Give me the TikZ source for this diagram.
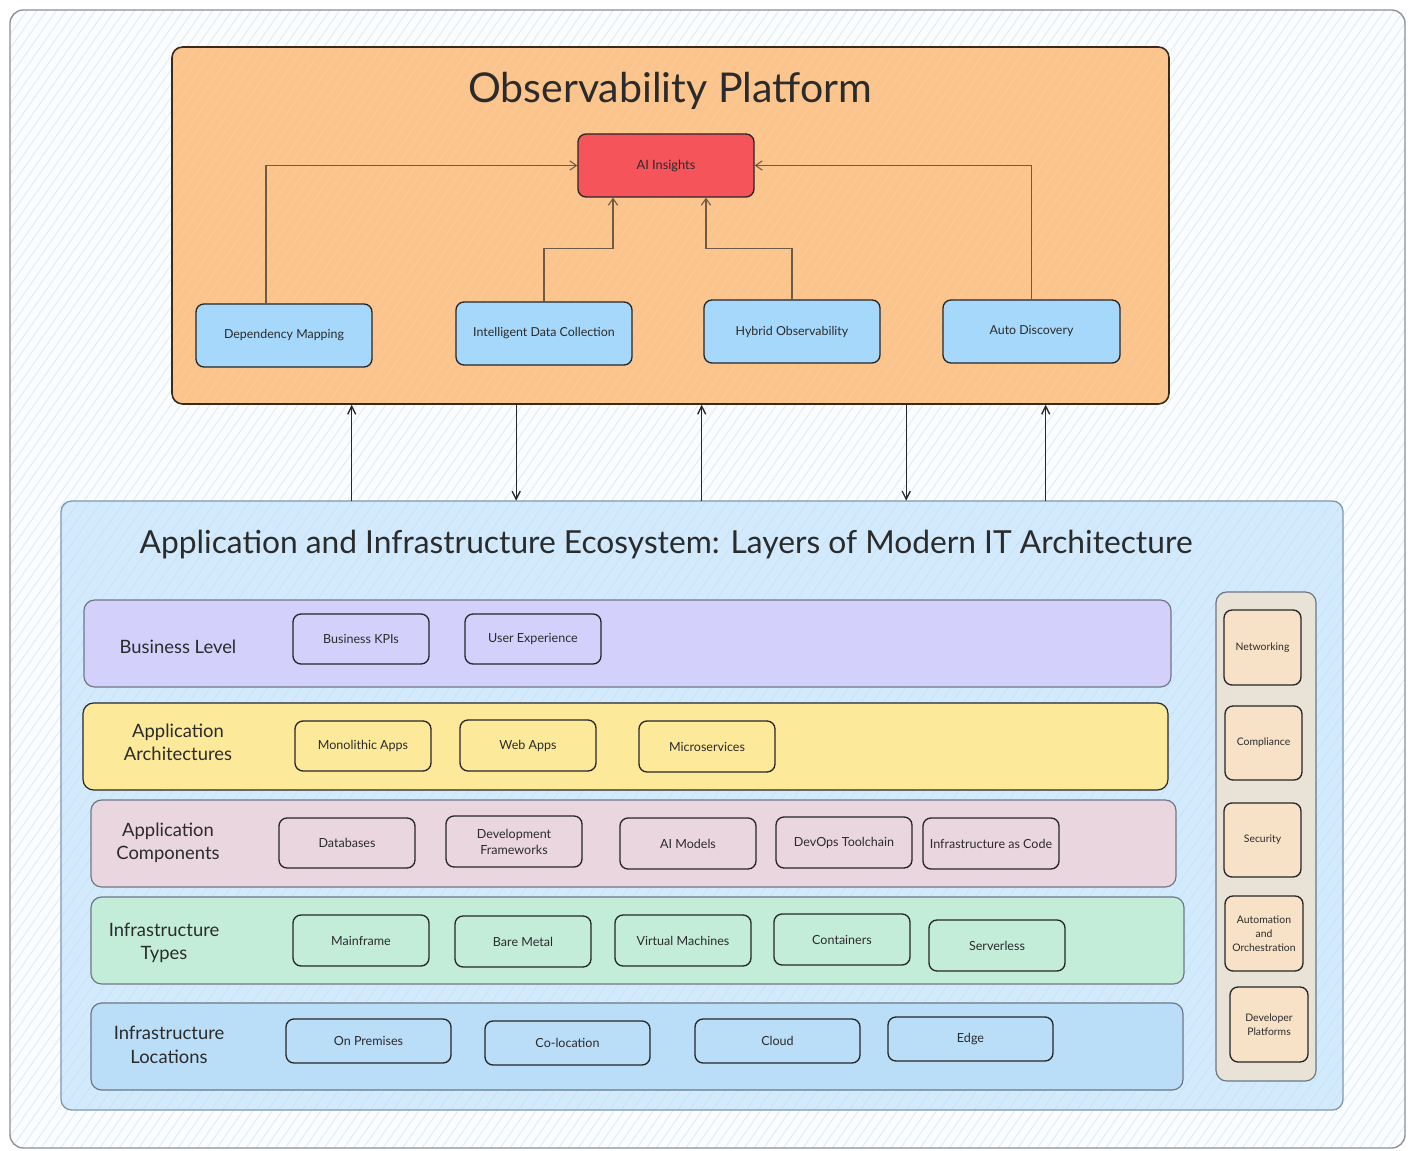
\documentclass[tikz,border=0pt]{standalone}
\usepackage{fontspec}
\setmainfont{Lato}
\usetikzlibrary{calc,arrows.meta,patterns.meta}

\definecolor{txt}{HTML}{2B2B2B}
\definecolor{bgc}{HTML}{FAFCFE}
\definecolor{hatch}{HTML}{DDEBF6}
\definecolor{framec}{HTML}{8C8F93}
\definecolor{orangef}{HTML}{FAC48C}
\definecolor{orangeh}{HTML}{FDCB98}
\definecolor{oranged}{HTML}{3A2A1A}
\definecolor{redf}{HTML}{F5545A}
\definecolor{bluen}{HTML}{A6D8FB}
\definecolor{ecof}{HTML}{D2EAFB}
\definecolor{ecohatch}{HTML}{C4E2F8}
\definecolor{ecob}{HTML}{7F99AD}
\definecolor{lavf}{HTML}{D3D0FC}
\definecolor{yelf}{HTML}{FDE99A}
\definecolor{pinkf}{HTML}{EAD6DF}
\definecolor{mintf}{HTML}{C3EDD9}
\definecolor{locf}{HTML}{BADDF8}
\definecolor{colf}{HTML}{E8E2D7}
\definecolor{peachf}{HTML}{F8E2C7}
\definecolor{layb}{HTML}{6E7884}
\definecolor{connc}{HTML}{6E5A45}

\tikzset{
  bx/.style n args={4}{at={({(#1+#3)/2},{(#2+#4)/2})},
    minimum width={(#3-#1)*0.75pt}, minimum height={(#4-#2)*0.75pt}},
  item/.style={rounded corners=6pt, draw=black!85, line width=1pt, inner sep=0pt,
    text=txt, font=\fontsize{9.4}{12}\selectfont, align=center},
  obsitem/.style={item, fill=bluen, font=\fontsize{9.3}{12}\selectfont},
  sideitem/.style={item, fill=peachf, font=\fontsize{7.8}{10.5}\selectfont},
  layer/.style={rounded corners=8pt, draw=layb, line width=0.9pt, inner sep=0pt},
  lbl/.style={font=\fontsize{13.8}{17.5}\selectfont, text=txt, align=center},
  conn/.style={draw=connc, line width=0.8pt, -{Straight Barb[length=5pt,width=7pt]}},
  link/.style={draw=black!85, line width=1pt, -{Straight Barb[length=6pt,width=6pt]}},
}

\begin{document}
\begin{tikzpicture}[x=0.75pt, y=-0.75pt]
\useasboundingbox (0,0) rectangle (1413,1151);

% outer frame
\node[bx={10}{10}{1405}{1148}, inner sep=0pt, rounded corners=10pt, draw=framec,
  line width=1pt, preaction={fill=bgc},
  pattern={Lines[angle=55,distance=6pt,line width=0.6pt]}, pattern color=hatch] (frame) {};

% observability platform
\node[bx={172}{47}{1169}{404}, inner sep=0pt, rounded corners=8pt, draw=oranged,
  line width=1.2pt, preaction={fill=orangef},
  pattern={Lines[angle=55,distance=6pt,line width=0.6pt]}, pattern color=orangeh] (obs) {};
\node[font=\fontsize{30.8}{36}\selectfont, text=txt] (t1) at (670,91) {Observability Platform};

\node[item, fill=redf, font=\fontsize{9.6}{11}\selectfont, bx={578}{134}{754}{197}] (ai) {AI Insights};
\node[obsitem, bx={196}{304}{372}{367}] (dep) {Dependency Mapping};
\node[obsitem, bx={456}{302}{632}{365}] (idc) {Intelligent Data Collection};
\node[obsitem, bx={704}{300}{880}{363}] (hyb) {Hybrid Observability};
\node[obsitem, bx={943}{300}{1120}{363}] (auto) {Auto Discovery};

\draw[conn] ($(dep.north)+(-18,0)$) |- (ai.west);
\draw[conn] (idc.north) -- ++(0,-53) -| ($(ai.south)+(-53,0)$);
\draw[conn] (hyb.north) -- ++(0,-51) -| ($(ai.south)+(40,0)$);
\draw[conn] (auto.north) |- (ai.east);

% ecosystem
\node[bx={61}{501}{1343}{1110}, inner sep=0pt, rounded corners=8pt, draw=ecob,
  line width=1pt, preaction={fill=ecof},
  pattern={Lines[angle=55,distance=7pt,line width=0.5pt]}, pattern color=ecohatch] (eco) {};
\node[font=\fontsize{23.8}{28}\selectfont, text=txt] (t2) at (666,545)
  {Application and Infrastructure Ecosystem: Layers of Modern IT Architecture};

% links between the two blocks
\draw[link] ($(eco.north west)+(291,0)$) coordinate (u1) -- (u1 |- obs.south);
\draw[link] ($(obs.south west)+(345,0)$) coordinate (d1) -- (d1 |- eco.north);
\draw[link] ($(eco.north west)+(641,0)$) coordinate (u2) -- (u2 |- obs.south);
\draw[link] ($(obs.south west)+(735,0)$) coordinate (d2) -- (d2 |- eco.north);
\draw[link] ($(eco.north west)+(985,0)$) coordinate (u3) -- (u3 |- obs.south);

% layers
\node[layer, fill=lavf, bx={84}{600}{1171}{687}] (bus) {};
\node[layer, fill=yelf, draw=black!85, bx={83}{703}{1168}{790}] (arch) {};
\node[layer, fill=pinkf, bx={91}{800}{1176}{887}] (comp) {};
\node[layer, fill=mintf, bx={91}{897}{1184}{984}] (types) {};
\node[layer, fill=locf, bx={91}{1003}{1183}{1090}] (locs) {};
\node[layer, fill=colf, bx={1216}{592}{1316}{1081}] (side) {};

\node[lbl] (busl) at (178,647) {Business Level};
\node[lbl] (archl) at (178,742) {Application\\Architectures};
\node[lbl] (compl) at (168,843) {Application\\Components};
\node[lbl] (typesl) at (164,943) {Infrastructure\\Types};
\node[lbl] (locsl) at (169,1045) {Infrastructure\\Locations};

% business
\node[item, fill=lavf, bx={293}{614}{429}{664}] (kpi) {Business KPIs};
\node[item, fill=lavf, bx={465}{614}{601}{664}] (ux) {User Experience};
% architectures
\node[item, fill=yelf, bx={295}{721}{431}{771}] (mono) {Monolithic Apps};
\node[item, fill=yelf, bx={460}{720}{596}{771}] (web) {Web Apps};
\node[item, fill=yelf, bx={639}{721}{775}{772}] (micro) {Microservices};
% components
\node[item, fill=pinkf, bx={279}{818}{415}{868}] (db) {Databases};
\node[item, fill=pinkf, bx={446}{816}{582}{867}] (dev) {Development\\Frameworks};
\node[item, fill=pinkf, bx={620}{818}{756}{869}] (aim) {AI Models};
\node[item, fill=pinkf, bx={776}{817}{912}{868}] (devops) {DevOps Toolchain};
\node[item, fill=pinkf, bx={923}{818}{1059}{869}] (iac) {Infrastructure as Code};
% types
\node[item, fill=mintf, bx={293}{915}{429}{966}] (mf) {Mainframe};
\node[item, fill=mintf, bx={455}{916}{591}{967}] (bm) {Bare Metal};
\node[item, fill=mintf, bx={615}{915}{751}{966}] (vm) {Virtual Machines};
\node[item, fill=mintf, bx={774}{914}{910}{965}] (cont) {Containers};
\node[item, fill=mintf, bx={929}{920}{1065}{971}] (sls) {Serverless};
% locations
\node[item, fill=locf, bx={286}{1019}{451}{1063}] (prem) {On Premises};
\node[item, fill=locf, bx={485}{1021}{650}{1065}] (coloc) {Co-location};
\node[item, fill=locf, bx={695}{1019}{860}{1063}] (cloud) {Cloud};
\node[item, fill=locf, bx={888}{1017}{1053}{1061}] (edge) {Edge};
% side column
\node[sideitem, bx={1224}{610}{1301}{685}] (net) {Networking};
\node[sideitem, bx={1225}{706}{1302}{780}] (compli) {Compliance};
\node[sideitem, bx={1224}{803}{1301}{877}] (sec) {Security};
\node[sideitem, bx={1225}{896}{1303}{971}] (autom) {Automation\\and\\Orchestration};
\node[sideitem, bx={1230}{987}{1308}{1062}] (devp) {Developer\\Platforms};

\end{tikzpicture}
\end{document}
